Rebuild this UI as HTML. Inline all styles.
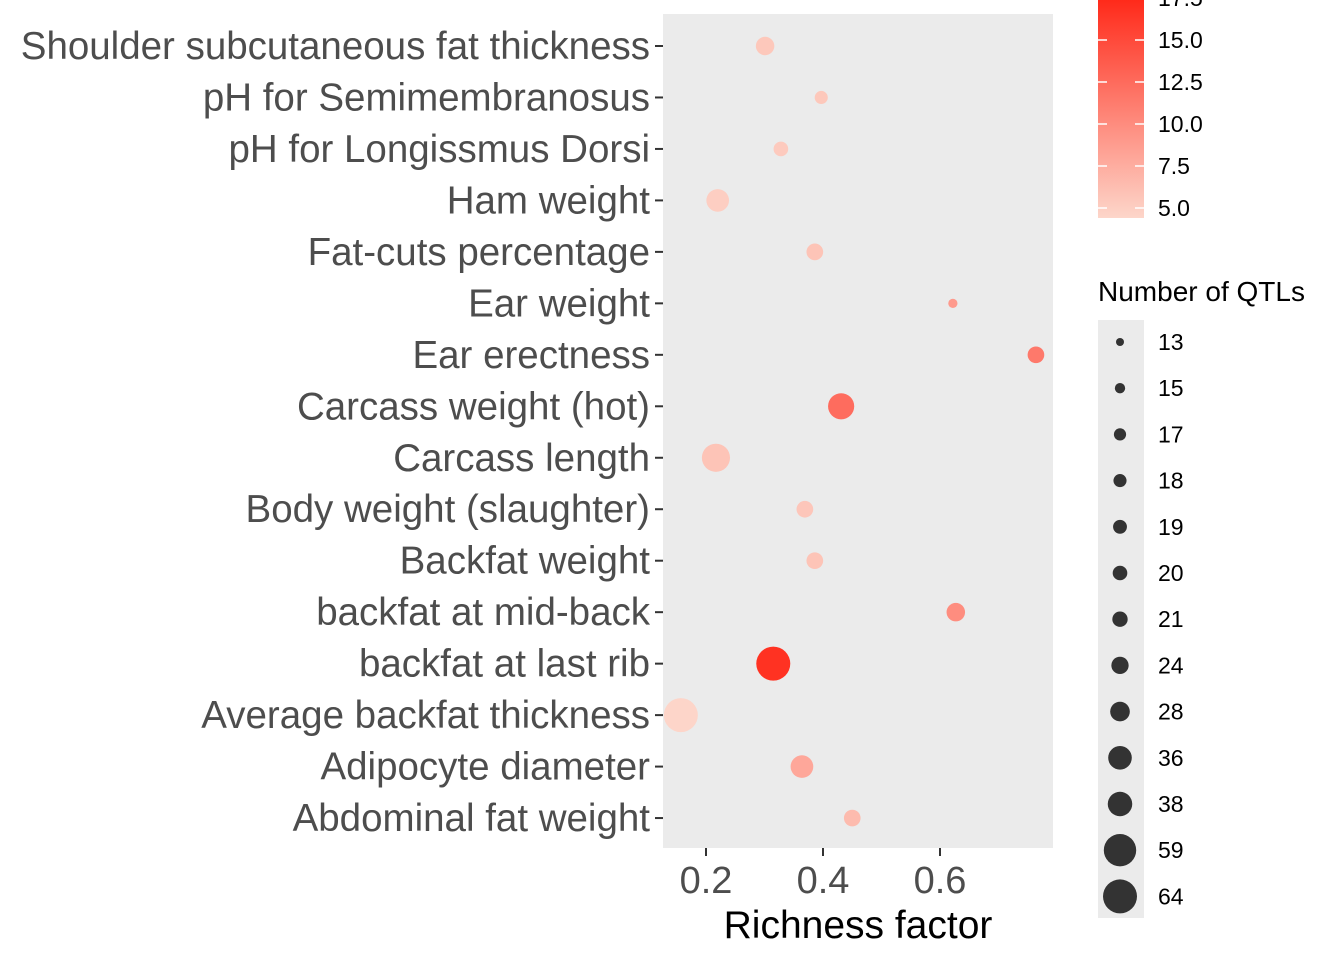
<!DOCTYPE html>
<html><head><meta charset="utf-8"><style>
body{margin:0;background:#fff;}
svg text{font-family:"Liberation Sans",Arial,sans-serif;}
</style></head><body>
<svg id="chart" width="1344" height="960" xmlns="http://www.w3.org/2000/svg">
<defs><linearGradient id="cg" x1="0" y1="1" x2="0" y2="0"><stop offset="0" stop-color="#fdd6ca"/><stop offset="1" stop-color="#ff2a1a"/></linearGradient></defs>
<rect x="663" y="14" width="390" height="834" fill="#ebebeb"/>
<g id="yax"></g><g id="xax"></g><g id="pts"></g>
<text x="858" y="938" font-size="39" text-anchor="middle" fill="#000">Richness factor</text>
<rect x="1098" y="0" width="46" height="218" fill="url(#cg)"/>
<g id="cleg"></g>
<text x="1098" y="301" font-size="28" fill="#000">Number of QTLs</text>
<rect x="1098" y="320" width="46" height="598" fill="#ebebeb"/>
<g id="sleg"></g>
</svg>
<script>
const categories=["Shoulder subcutaneous fat thickness","pH for Semimembranosus","pH for Longissmus Dorsi","Ham weight","Fat-cuts percentage","Ear weight","Ear erectness","Carcass weight (hot)","Carcass length","Body weight (slaughter)","Backfat weight","backfat at mid-back","backfat at last rib","Average backfat thickness","Adipocyte diameter","Abdominal fat weight"];
const richness=[0.301,0.397,0.328,0.220,0.386,0.622,0.764,0.431,0.217,0.369,0.386,0.627,0.315,0.157,0.364,0.450];
const qtls=[26,18,20,34,23,14,23,42,47,23,23,26,64,64,34,23];
const enrich=[5.5,5.5,5.3,5.0,5.8,9.0,11.5,12.5,5.8,5.6,5.8,10.0,17.0,4.5,8.0,6.5];
const xTicks=[0.2,0.4,0.6];
const colorTicks=[5.0,7.5,10.0,12.5,15.0,17.5];
const sizeTicks=[13,15,17,18,19,20,21,24,28,36,38,59,64];
const NS="http://www.w3.org/2000/svg";
const x=v=>706+(v-0.2)*585;
const y=i=>46+i*51.47;
const r=n=>Math.sqrt(16+273*(n-13)/51);
const cy=v=>208-(v-5)*16.8;
function col(v){let t=Math.max(0,Math.min(1,(v-4.4)/13.2));const a=[253,214,202],b=[255,42,26];return `rgb(${a.map((c,k)=>Math.round(c+(b[k]-c)*t)).join(',')})`;}
function mk(tag,at,p,txt){const e=document.createElementNS(NS,tag);for(const k in at)e.setAttribute(k,at[k]);if(txt!==undefined)e.textContent=txt;p.appendChild(e);return e;}
const yax=document.getElementById('yax'),xax=document.getElementById('xax'),pts=document.getElementById('pts'),cl=document.getElementById('cleg'),sl=document.getElementById('sleg');
categories.forEach((c,i)=>{
 const t=mk('text',{x:650,y:y(i)+13,'font-size':38.5,'text-anchor':'end',fill:'#4d4d4d'},yax,c);
 
 
 const tk=mk('line',{x1:655,x2:663,y1:y(i),y2:y(i),stroke:'#333','stroke-width':2},yax);
 
 
 const p=mk('circle',{cx:x(richness[i]),cy:y(i),r:r(qtls[i]),fill:col(enrich[i])},pts);
 
 
});
xTicks.forEach(v=>{
 const tk=mk('line',{x1:x(v),x2:x(v),y1:848,y2:856,stroke:'#333','stroke-width':2},xax);
 
 
 const t=mk('text',{x:x(v),y:893,'font-size':38,'text-anchor':'middle',fill:'#4d4d4d'},xax,v.toFixed(1));
 
 
});
colorTicks.forEach(v=>{
 const a=mk('line',{x1:1098,x2:1107,y1:cy(v),y2:cy(v),stroke:'#fff','stroke-width':1.5},cl);
 
 
 const b=mk('line',{x1:1135,x2:1144,y1:cy(v),y2:cy(v),stroke:'#fff','stroke-width':1.5},cl);
 
 
 const t=mk('text',{x:1158,y:cy(v)+8,'font-size':23,fill:'#000'},cl,v.toFixed(1));
 
 
});
sizeTicks.forEach((n,i)=>{
 const yy=342+i*46.2;
 const c=mk('circle',{cx:1120,cy:yy,r:r(n),fill:'#333'},sl);
 
 
 const t=mk('text',{x:1158,y:yy+8,'font-size':23,fill:'#000'},sl,String(n));
 
 
});
</script>
</body></html>
